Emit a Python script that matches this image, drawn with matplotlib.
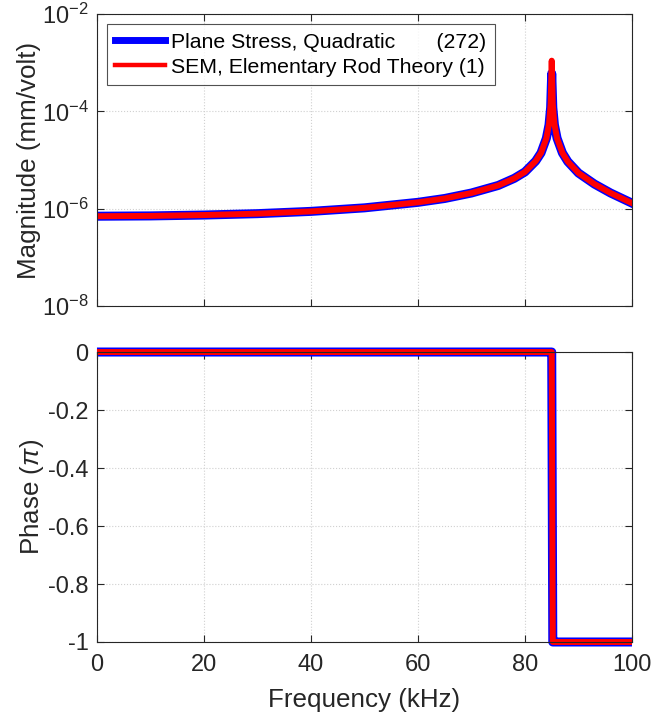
import numpy as np
import matplotlib
matplotlib.use("Agg")
import matplotlib.pyplot as plt

plt.rcParams['font.family'] = ['Liberation Sans', 'DejaVu Sans']
plt.rcParams['mathtext.fontset'] = 'custom'
plt.rcParams['mathtext.rm'] = 'Liberation Sans'
plt.rcParams['mathtext.it'] = 'Liberation Sans:italic'

# frequency (kHz) and responses
freq = [0, 10, 20, 30, 40, 50, 60, 65, 70, 75, 78, 80, 82, 83, 84, 84.5,
        84.8, 85.0, 85.2, 85.5, 86, 87, 88, 90, 93, 96, 100]
mag_fem = [7.0e-7, 7.1e-7, 7.4e-7, 7.9e-7, 8.8e-7, 1.04e-6, 1.35e-6, 1.62e-6,
           2.1e-6, 3.0e-6, 4.2e-6, 5.7e-6, 9.5e-6, 1.4e-5, 2.8e-5, 5.3e-5,
           1.2e-4, 6.0e-4, 1.2e-4, 5.3e-5, 2.8e-5, 1.4e-5, 9.3e-6, 5.4e-6,
           3.2e-6, 2.1e-6, 1.3e-6]
mag_sem = [7.0e-7, 7.1e-7, 7.4e-7, 7.9e-7, 8.8e-7, 1.04e-6, 1.35e-6, 1.62e-6,
           2.1e-6, 3.0e-6, 4.2e-6, 5.7e-6, 9.5e-6, 1.4e-5, 2.8e-5, 5.5e-5,
           1.4e-4, 1.1e-3, 1.4e-4, 5.5e-5, 2.8e-5, 1.4e-5, 9.3e-6, 5.4e-6,
           3.2e-6, 2.1e-6, 1.3e-6]
phase_fem = [0, 0, 0, 0, 0, 0, 0, 0, 0, 0, 0, 0, 0, 0, 0, 0,
             0, 0, -1, -1, -1, -1, -1, -1, -1, -1, -1]
phase_sem = [0, 0, 0, 0, 0, 0, 0, 0, 0, 0, 0, 0, 0, 0, 0, 0,
             0, 0, -1, -1, -1, -1, -1, -1, -1, -1, -1]

labels = ["Plane Stress, Quadratic       (272)", "SEM, Elementary Rod Theory (1)"]
xticks = [0, 20, 40, 60, 80, 100]
mag_ticks = [1e-8, 1e-6, 1e-4, 1e-2]
mag_ticklabels = [r"$10^{-8}$", r"$10^{-6}$", r"$10^{-4}$", r"$10^{-2}$"]
phase_ticks = [-1, -0.8, -0.6, -0.4, -0.2, 0]
phase_ticklabels = ["-1", "-0.8", "-0.6", "-0.4", "-0.2", "0"]

axcol = "#262626"
tick_fs = 17
label_fs = 18.7
fig = plt.figure(figsize=(6.57, 7.19), dpi=100)
ax1 = fig.add_axes([0.1476, 0.5744, 0.8143, 0.4061])
ax2 = fig.add_axes([0.1476, 0.1071, 0.8143, 0.4033])

def style(ax):
    ax.set_xlim(0, 100)
    ax.set_xticks(xticks)
    ax.grid(True, color="#d0d0d0", linestyle=":", linewidth=0.8)
    ax.tick_params(direction="in", length=5, width=0.8, colors=axcol,
                   labelsize=tick_fs, top=True, right=True, which="major")
    ax.tick_params(axis="x", pad=9)
    ax.tick_params(axis="y", pad=6)
    ax.tick_params(which="minor", left=False, right=False)
    for s in ax.spines.values():
        s.set_color(axcol)
        s.set_linewidth(0.8)

ax1.semilogy(freq, mag_fem, color="blue", lw=6.5, label=labels[0])
ax1.semilogy(freq, mag_sem, color="red", lw=4.3, label=labels[1])
ax1.set_ylim(1e-8, 1e-2)
style(ax1)
ax1.set_yticks(mag_ticks)
ax1.set_yticklabels(mag_ticklabels)
ax1.yaxis.set_minor_locator(matplotlib.ticker.NullLocator())
ax1.set_xticklabels([])
ax1.set_ylabel("Magnitude (mm/volt)", fontsize=label_fs, color=axcol, labelpad=0.4)
leg = ax1.legend(loc="upper left", fontsize=15.3, frameon=True, fancybox=False,
                 handlelength=2.35, borderaxespad=0.47, labelspacing=0.3,
                 handletextpad=0.28, borderpad=0.4)
leg.get_frame().set_edgecolor(axcol)
leg.get_frame().set_linewidth(0.8)
leg.get_lines()[0].set_linewidth(5)
leg.get_lines()[1].set_linewidth(3.2)

ax2.plot(freq, phase_fem, color="blue", lw=6.5, clip_on=False,
         solid_joinstyle="round", solid_capstyle="butt")
ax2.plot(freq, phase_sem, color="red", lw=4.3, clip_on=False,
         solid_joinstyle="round", solid_capstyle="butt")
ax2.set_ylim(-1, 0)
style(ax2)
ax2.set_yticks(phase_ticks)
ax2.set_yticklabels(phase_ticklabels)
ax2.set_ylabel(r"Phase ($\pi$)", fontsize=label_fs, color=axcol, labelpad=1.8)
ax2.set_xlabel("Frequency (kHz)", fontsize=label_fs, color=axcol, labelpad=8.3)

fig.savefig("out.png", dpi=100)
